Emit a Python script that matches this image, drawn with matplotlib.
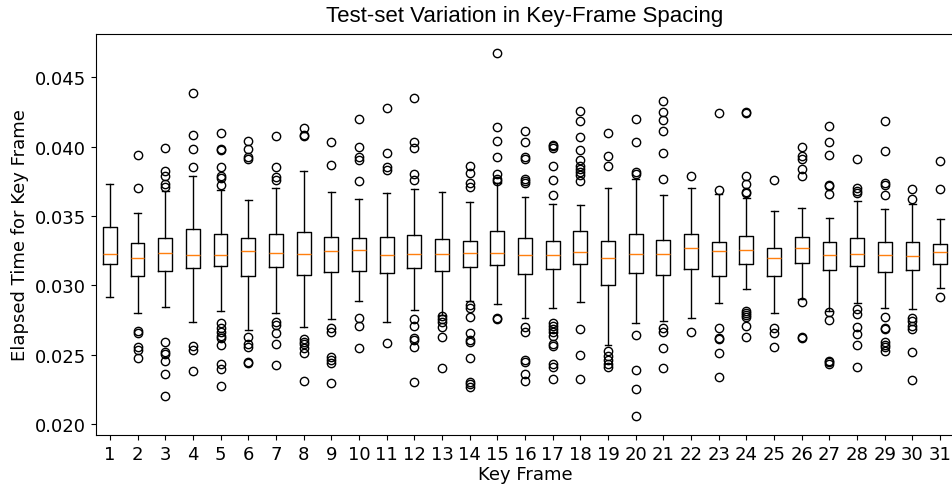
import matplotlib
matplotlib.use("Agg")
import matplotlib.pyplot as plt

frames = list(range(1, 32))

medians = [0.03228, 0.03195, 0.03236, 0.03219, 0.03219, 0.03248, 0.03236, 0.03228, 0.03248, 0.03255,
           0.03219, 0.03226, 0.03226, 0.03236, 0.03236, 0.03219, 0.03219, 0.03243, 0.03195, 0.03226,
           0.03226, 0.03267, 0.03248, 0.03255, 0.03199, 0.03267, 0.03219, 0.03226, 0.03219, 0.03214,
           0.03243]
q1 = [0.03151, 0.03070, 0.03106, 0.03125, 0.03137, 0.03070, 0.03132, 0.03077, 0.03098, 0.03106,
      0.03089, 0.03125, 0.03106, 0.03132, 0.03144, 0.03084, 0.03120, 0.03151, 0.03005, 0.03089,
      0.03077, 0.03120, 0.03070, 0.03156, 0.03070, 0.03163, 0.03113, 0.03137, 0.03098, 0.03113,
      0.03151]
q3 = [0.03423, 0.03303, 0.03341, 0.03404, 0.03368, 0.03341, 0.03368, 0.03382, 0.03348, 0.03341,
      0.03346, 0.03361, 0.03334, 0.03322, 0.03389, 0.03341, 0.03322, 0.03389, 0.03317, 0.03368,
      0.03327, 0.03368, 0.03315, 0.03353, 0.03267, 0.03346, 0.03315, 0.03341, 0.03315, 0.03310,
      0.03296]
whis_low = [0.02918, 0.02798, 0.02846, 0.02735, 0.02817, 0.02678, 0.02802, 0.02697, 0.02757, 0.02889,
            0.02735, 0.02822, 0.02786, 0.02889, 0.02863, 0.02762, 0.02839, 0.02882, 0.02570, 0.02728,
            0.02743, 0.02767, 0.02870, 0.02973, 0.02802, 0.02901, 0.02817, 0.02872, 0.02839, 0.02832,
            0.02981]
whis_high = [0.03733, 0.03519, 0.03678, 0.03788, 0.03685, 0.03613, 0.03699, 0.03822, 0.03671, 0.03620,
             0.03663, 0.03697, 0.03671, 0.03603, 0.03736, 0.03637, 0.03584, 0.03579, 0.03704, 0.03767,
             0.03654, 0.03699, 0.03661, 0.03630, 0.03538, 0.03558, 0.03488, 0.03606, 0.03550, 0.03589,
             0.03476]
outliers = [
    [],
    [0.03942, 0.03699, 0.02668, 0.02659, 0.02553, 0.02534, 0.02473],
    [0.03990, 0.03827, 0.03791, 0.03731, 0.03707, 0.02594, 0.02517, 0.02505, 0.02452, 0.02360, 0.02204],
    [0.04387, 0.04084, 0.03983, 0.03853, 0.02560, 0.02533, 0.02384],
    [0.04096, 0.03983, 0.03978, 0.03851, 0.03791, 0.03772, 0.03726, 0.02726, 0.02692, 0.02666, 0.02637,
     0.02620, 0.02572, 0.02433, 0.02397, 0.02271],
    [0.04038, 0.03983, 0.03923, 0.03911, 0.02630, 0.02577, 0.02553, 0.02445, 0.02437],
    [0.04079, 0.03851, 0.03779, 0.03762, 0.02733, 0.02714, 0.02656, 0.02577, 0.02425],
    [0.04135, 0.04084, 0.04079, 0.02613, 0.02594, 0.02577, 0.02548, 0.02509, 0.02308],
    [0.04031, 0.03868, 0.02692, 0.02661, 0.02485, 0.02464, 0.02437, 0.02293],
    [0.04199, 0.03995, 0.03923, 0.03906, 0.03752, 0.02762, 0.02709, 0.02548],
    [0.04279, 0.03954, 0.03851, 0.03834, 0.02582],
    [0.04349, 0.04031, 0.03990, 0.03800, 0.03760, 0.02757, 0.02704, 0.02618, 0.02608, 0.02553, 0.02300],
    [0.02776, 0.02757, 0.02733, 0.02702, 0.02630, 0.02406],
    [0.03863, 0.03808, 0.03738, 0.03711, 0.02858, 0.02836, 0.02774, 0.02656, 0.02606, 0.02594, 0.02473,
     0.02305, 0.02286, 0.02269],
    [0.04675, 0.04144, 0.04041, 0.03923, 0.03803, 0.03767, 0.03755, 0.02767, 0.02755],
    [0.04111, 0.04031, 0.03923, 0.03911, 0.03767, 0.03752, 0.03738, 0.02697, 0.02661, 0.02461, 0.02445,
     0.02360, 0.02312],
    [0.04014, 0.04002, 0.03988, 0.03863, 0.03760, 0.03654, 0.02728, 0.02709, 0.02685, 0.02661, 0.02637,
     0.02577, 0.02565, 0.02433, 0.02409, 0.02324],
    [0.04255, 0.04187, 0.04072, 0.03978, 0.03904, 0.03863, 0.03839, 0.03820, 0.03798, 0.03750, 0.02687,
     0.02500, 0.02324],
    [0.04096, 0.03935, 0.03863, 0.02524, 0.02493, 0.02461, 0.02433, 0.02409],
    [0.04199, 0.04036, 0.03815, 0.03803, 0.02642, 0.02392, 0.02252, 0.02055],
    [0.04329, 0.04248, 0.04192, 0.04111, 0.03954, 0.03767, 0.02690, 0.02661, 0.02546, 0.02404],
    [0.03788, 0.02661],
    [0.04245, 0.03685, 0.02690, 0.02620, 0.02613, 0.02509, 0.02336],
    [0.04248, 0.04243, 0.03788, 0.03728, 0.03675, 0.03666, 0.02817, 0.02800, 0.02786, 0.02769, 0.02709,
     0.02630],
    [0.03762, 0.02690, 0.02659, 0.02553],
    [0.03998, 0.03936, 0.03911, 0.03839, 0.03788, 0.02877, 0.02630, 0.02618],
    [0.04151, 0.04036, 0.03942, 0.03726, 0.03714, 0.03656, 0.02805, 0.02750, 0.02457, 0.02445, 0.02433],
    [0.03911, 0.03699, 0.03683, 0.03666, 0.02829, 0.02793, 0.02702, 0.02649, 0.02570, 0.02413],
    [0.04185, 0.03969, 0.03736, 0.03726, 0.03654, 0.02772, 0.02695, 0.02685, 0.02589, 0.02570, 0.02553,
     0.02529],
    [0.03692, 0.03625, 0.02762, 0.02740, 0.02709, 0.02685, 0.02522, 0.02319],
    [0.03894, 0.03692, 0.02918],
]

stats = []
for i in range(len(frames)):
    stats.append(dict(med=medians[i], q1=q1[i], q3=q3[i],
                      whislo=whis_low[i], whishi=whis_high[i],
                      fliers=outliers[i], label=str(frames[i])))

fig = plt.figure(figsize=(9.52, 4.89), dpi=100)
ax = fig.add_axes([96 / 952, 53 / 489, 858 / 952, 401 / 489])
ax.bxp(stats, positions=frames, showfliers=True)
ax.set_xlim(0.5, 31.5)
ax.set_ylim(0.01921, 0.04812)
ax.set_yticks([0.020, 0.025, 0.030, 0.035, 0.040, 0.045])
ax.tick_params(labelsize=13)
ax.set_xlabel("Key Frame", fontsize=13, labelpad=2)
ax.set_ylabel("Elapsed Time for Key Frame", fontsize=13)
ax.set_title("Test-set Variation in Key-Frame Spacing", fontsize=16,
             family=["Liberation Sans", "DejaVu Sans"], pad=9.5)

fig.savefig("out.png", dpi=100)
